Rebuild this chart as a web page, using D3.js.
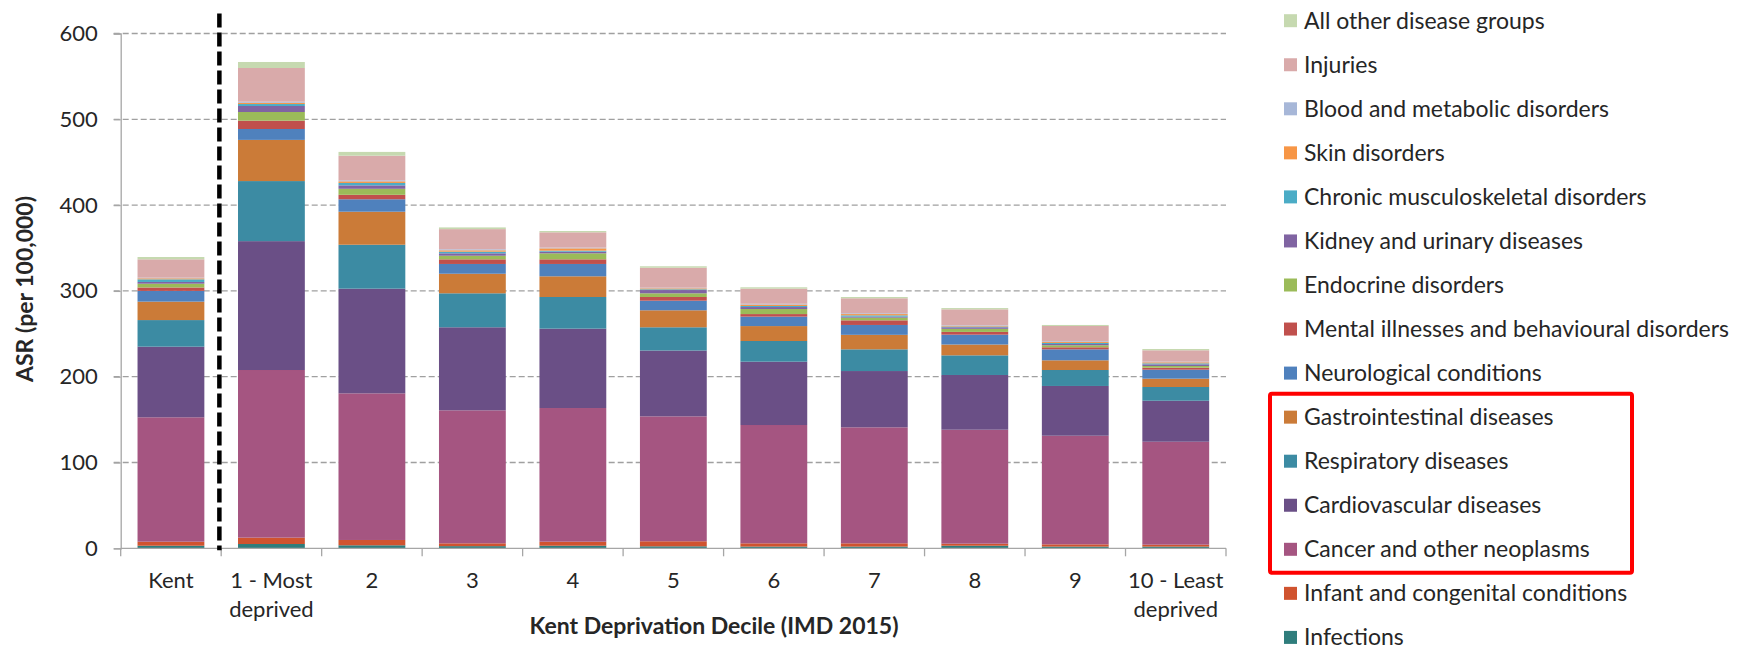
<!DOCTYPE html>
<html>
<head>
<meta charset="utf-8">
<script src="https://cdn.jsdelivr.net/npm/d3@7"></script>
<style>
  body { margin: 0; background: #fff; }
  svg text { font-family: Lato, "Open Sans", sans-serif; fill: #262626; }
</style>
</head>
<body>
<div id="chart"></div>
<script>
var svgWidth = 1762;
var svgHeight = 650;

var margin = { top: 33.5, right: 536, bottom: 101.7, left: 120.7 };
var width = svgWidth - margin.left - margin.right;
var height = svgHeight - margin.top - margin.bottom;

// bars, left to right
var categories = ["Kent", "1 - Most|deprived", "2", "3", "4", "5", "6", "7", "8", "9", "10 - Least|deprived"];

// stack order from the bottom up
var seriesNames = [
  "Infections",
  "Infant and congenital conditions",
  "Cancer and other neoplasms",
  "Cardiovascular diseases",
  "Respiratory diseases",
  "Gastrointestinal diseases",
  "Neurological conditions",
  "Mental illnesses and behavioural disorders",
  "Endocrine disorders",
  "Kidney and urinary diseases",
  "Chronic musculoskeletal disorders",
  "Skin disorders",
  "Blood and metabolic disorders",
  "Injuries",
  "All other disease groups"
];

var seriesColors = ["#2f7d7c", "#d0532f", "#a55581", "#6a4f86", "#3c8ba3", "#cb7b38", "#4f81bd",
  "#c0504d", "#9bbb59", "#8064a2", "#4bacc6", "#f79646", "#a7b7d8", "#d9aaaa", "#c6d9b0"];

// ASR per 100,000, one array per disease group, one value per bar
var infections     = [3.0, 5.0, 3.5, 2.5, 3.0, 2.3, 2.0, 2.0, 3.0, 2.0, 2.0];
var infant         = [4.7, 7.4, 6.2, 3.3, 4.7, 5.9, 3.8, 3.8, 2.4, 2.6, 2.2];
var cancer         = [145.0, 195.4, 170.9, 155.0, 155.8, 145.6, 137.9, 135.2, 132.8, 126.6, 120.0];
var cardiovascular = [82.3, 150.2, 122.0, 96.8, 92.5, 76.7, 73.8, 65.6, 63.8, 58.0, 47.8];
var respiratory    = [31.0, 70.0, 51.2, 39.6, 36.9, 27.1, 24.1, 25.3, 22.9, 18.6, 16.0];
var gastro         = [21.5, 48.0, 38.5, 22.8, 24.1, 19.8, 17.4, 16.9, 12.6, 11.3, 9.7];
var neurological   = [12.5, 12.7, 14.5, 11.4, 14.4, 11.2, 11.0, 11.5, 11.5, 12.8, 10.5];
var mental         = [4.0, 9.7, 5.2, 5.4, 5.4, 4.3, 3.0, 5.4, 3.2, 2.4, 2.3];
var endocrine      = [4.4, 10.1, 7.0, 4.2, 7.0, 4.3, 5.9, 3.1, 3.6, 2.3, 2.0];
var kidney         = [2.0, 7.0, 4.0, 2.8, 1.9, 3.8, 2.3, 1.2, 1.8, 1.5, 1.9];
var musculo        = [3.1, 2.3, 2.8, 1.9, 1.2, 0.9, 1.2, 1.5, 0.9, 1.2, 1.2];
var skin           = [1.2, 1.5, 1.9, 1.6, 2.7, 1.1, 1.6, 1.5, 0.7, 1.1, 1.2];
var blood          = [0.7, 1.2, 1.2, 1.2, 0.8, 0.7, 1.0, 0.9, 0.7, 0.9, 0.7];
var injuries       = [21.4, 39.3, 28.7, 23.5, 17.9, 23.3, 17.6, 17.5, 18.6, 17.8, 13.3];
var allOther       = [2.7, 7.0, 4.4, 2.0, 1.5, 1.7, 1.6, 1.5, 1.5, 1.2, 1.5];

var seriesValues = [infections, infant, cancer, cardiovascular, respiratory, gastro, neurological,
  mental, endocrine, kidney, musculo, skin, blood, injuries, allOther];

var yTicks = [0, 100, 200, 300, 400, 500, 600];

// legend entries drawn inside the red box
var highlighted = ["Gastrointestinal diseases", "Respiratory diseases",
  "Cardiovascular diseases", "Cancer and other neoplasms"];

// build rows for d3.stack
var table = categories.map(function (c, i) {
  var row = { category: c };
  seriesNames.forEach(function (s, j) { row[s] = seriesValues[j][i]; });
  return row;
});

var svg = d3.select("#chart")
  .append("svg")
  .attr("width", svgWidth)
  .attr("height", svgHeight);

var chartGroup = svg.append("g")
  .attr("transform", `translate(${margin.left}, ${margin.top})`);

var xScale = d3.scaleBand()
  .domain(categories)
  .range([0, width])
  .paddingInner(0.335)
  .paddingOuter(0.1675);

var yScale = d3.scaleLinear()
  .domain([0, 600])
  .range([height, 0]);

var color = d3.scaleOrdinal().domain(seriesNames).range(seriesColors);

// gridlines
chartGroup.append("g")
  .selectAll("line")
  .data(yTicks.filter(d => d > 0))
  .enter()
  .append("line")
  .attr("x1", -7)
  .attr("x2", width)
  .attr("y1", d => yScale(d))
  .attr("y2", d => yScale(d))
  .attr("stroke", "#a0a0a0")
  .attr("stroke-width", 1.3)
  .attr("stroke-dasharray", "6,3");

// stacked bars
var stacked = d3.stack().keys(seriesNames)(table);

chartGroup.append("g")
  .selectAll("g")
  .data(stacked)
  .enter()
  .append("g")
  .attr("fill", d => color(d.key))
  .selectAll("rect")
  .data(d => d)
  .enter()
  .append("rect")
  .attr("x", d => xScale(d.data.category))
  .attr("y", d => yScale(d[1]))
  .attr("width", xScale.bandwidth())
  .attr("height", d => yScale(d[0]) - yScale(d[1]));

// y axis
var leftAxis = d3.axisLeft(yScale).tickValues(yTicks).tickSize(7).tickPadding(16);
var yAxis = chartGroup.append("g").call(leftAxis);
yAxis.select(".domain").attr("stroke", "#a6a6a6").attr("stroke-width", 1.3);
yAxis.selectAll(".tick line").attr("stroke", "#a6a6a6").attr("stroke-width", 1.3);
yAxis.selectAll(".tick text")
  .style("font-size", "22px")
  .style("font-family", "Lato, sans-serif")
  .attr("fill", "#262626");

// x axis: line plus ticks at the band boundaries
var xAxis = chartGroup.append("g").attr("transform", `translate(0, ${height})`);
xAxis.append("line")
  .attr("x1", 0).attr("x2", width)
  .attr("stroke", "#a6a6a6").attr("stroke-width", 1.3);
xAxis.selectAll(".xtick")
  .data(d3.range(categories.length + 1))
  .enter()
  .append("line")
  .attr("class", "xtick")
  .attr("x1", i => i * xScale.step())
  .attr("x2", i => i * xScale.step())
  .attr("y1", 0)
  .attr("y2", 8)
  .attr("stroke", "#a6a6a6")
  .attr("stroke-width", 1.3);

var xLabels = xAxis.selectAll(".xlabel")
  .data(categories)
  .enter()
  .append("text")
  .attr("class", "xlabel")
  .attr("text-anchor", "middle")
  .attr("x", d => xScale(d) + xScale.bandwidth() / 2)
  .style("font-size", "22px");
xLabels.each(function (d) {
  var lines = d.split("|");
  var t = d3.select(this);
  lines.forEach(function (l, k) {
    t.append("tspan")
      .attr("x", xScale(d) + xScale.bandwidth() / 2)
      .attr("y", 40 + k * 28.5)
      .text(l);
  });
});

// dashed separator between Kent and the deciles
var sepX = xScale.step() - 1.8;
chartGroup.append("line")
  .attr("x1", sepX).attr("x2", sepX)
  .attr("y1", -20).attr("y2", height + 2)
  .attr("stroke", "#000")
  .attr("stroke-width", 4.5)
  .attr("stroke-dasharray", "14,5");

// axis titles
svg.append("text")
  .attr("transform", "translate(33, 289) rotate(-90)")
  .attr("text-anchor", "middle")
  .style("font-size", "23px")
  .style("font-weight", "bold")
  .text("ASR (per 100,000)");

svg.append("text")
  .attr("x", 714)
  .attr("y", 634)
  .attr("text-anchor", "middle")
  .style("font-size", "23px")
  .style("font-weight", "bold")
  .text("Kent Deprivation Decile (IMD 2015)");

// legend, top entry is the last series
var legendOrder = seriesNames.slice().reverse();
var legend = svg.append("g").attr("transform", "translate(1284, 20.7)");
var rowGap = 44.05;

var items = legend.selectAll("g")
  .data(legendOrder)
  .enter()
  .append("g")
  .attr("transform", (d, i) => `translate(0, ${i * rowGap})`);

items.append("rect")
  .attr("x", 0).attr("y", -6.5)
  .attr("width", 13).attr("height", 13)
  .attr("fill", d => color(d));

items.append("text")
  .attr("x", 20)
  .attr("y", 8)
  .style("font-size", "23px")
  .text(d => d);

// red box round the highlighted entries
var first = legendOrder.indexOf(highlighted[0]);
var last = legendOrder.indexOf(highlighted[highlighted.length - 1]);
legend.append("rect")
  .attr("x", -14)
  .attr("y", first * rowGap - 23.5)
  .attr("width", 362)
  .attr("height", (last - first) * rowGap + 47)
  .attr("rx", 2)
  .attr("fill", "none")
  .attr("stroke", "#ff0000")
  .attr("stroke-width", 4);
</script>
</body>
</html>
